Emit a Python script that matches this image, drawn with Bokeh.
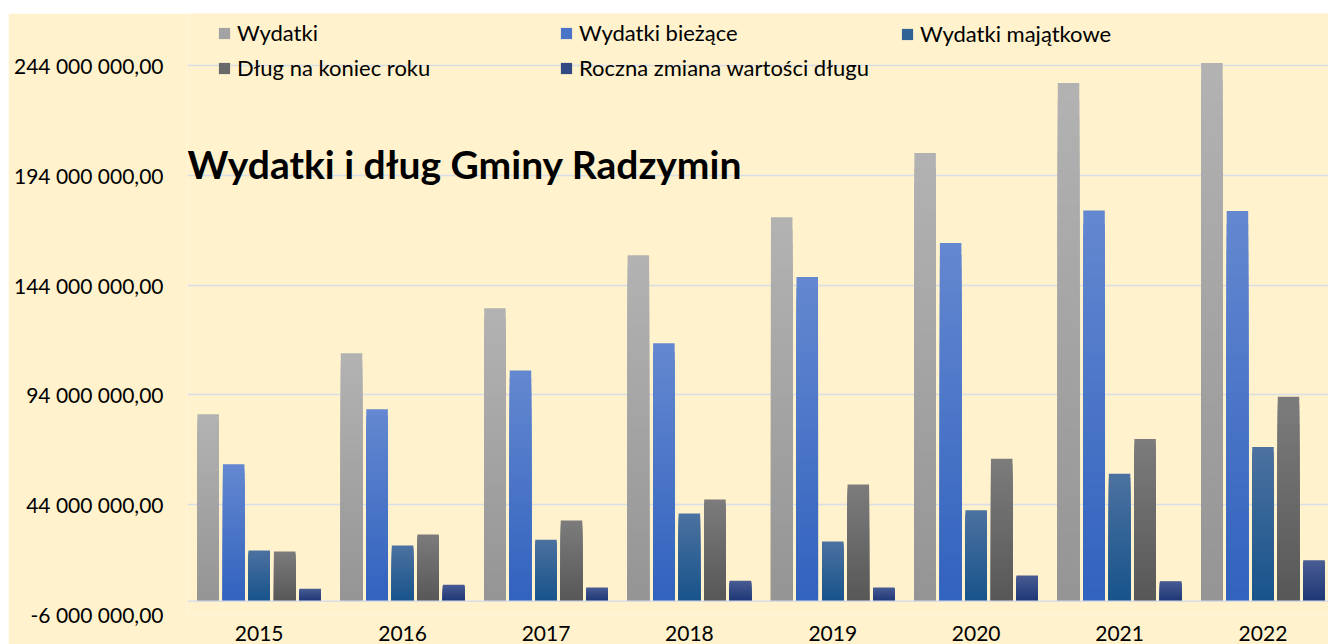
from bokeh.plotting import figure
from bokeh.models import (FixedTicker, Legend, LegendItem, Label, Span,
                          ColumnDataSource, Spacer)
from bokeh.layouts import column, row
from bokeh.embed import file_html
from bokeh.resources import INLINE

# ---------------- data (PLN) ----------------
years = ["2015", "2016", "2017", "2018", "2019", "2020", "2021", "2022"]
wydatki = [85.2e6, 113.0e6, 133.5e6, 157.7e6, 175.0e6, 204.2e6, 236.1e6, 245.3e6]
wydatki_biezace = [62.4e6, 87.5e6, 105.2e6, 117.6e6, 147.7e6, 163.2e6, 178.1e6, 177.8e6]
wydatki_majatkowe = [23.1e6, 25.4e6, 28.1e6, 40.0e6, 27.3e6, 41.5e6, 58.1e6, 70.3e6]
dlug = [22.7e6, 30.4e6, 36.8e6, 46.4e6, 53.2e6, 64.9e6, 74.0e6, 93.2e6]
zmiana_dlugu = [5.7e6, 7.6e6, 6.3e6, 9.4e6, 6.3e6, 11.8e6, 9.2e6, 18.7e6]

series_names = ["Wydatki", "Wydatki bieżące", "Wydatki majątkowe",
                "Dług na koniec roku", "Roczna zmiana wartości długu"]
series_values = [wydatki, wydatki_biezace, wydatki_majatkowe, dlug, zmiana_dlugu]
y_ticks = [-6e6, 44e6, 94e6, 144e6, 194e6, 244e6]

# ---------------- style ----------------
BG = "#FFF2CC"
FONT = "Lato"
# (top colour, bottom colour) of each series' vertical gradient
grad = [((0xB3, 0xB3, 0xB3), (0x94, 0x94, 0x94)),
        ((0x64, 0x88, 0xD0), (0x31, 0x62, 0xBE)),
        ((0x4C, 0x72, 0xA0), (0x17, 0x53, 0x8B)),
        ((0x7C, 0x7C, 0x7C), (0x57, 0x57, 0x57)),
        ((0x4A, 0x5C, 0x93), (0x1D, 0x37, 0x75))]
N_STEPS = 30
BAR_PITCH = 0.178
BAR_W = 0.15


def mix(c_top, c_bot, t):
    r, g, b = (int(round(c_bot[i] + (c_top[i] - c_bot[i]) * t)) for i in range(3))
    return "#%02x%02x%02x" % (r, g, b)


def fmt(v):
    s = f"{abs(v):,.2f}".replace(",", " ").replace(".", ",")
    return ("-" if v < 0 else "") + s


p = figure(width=1320, height=631, output_backend="svg", toolbar_location=None,
           x_range=(-0.5, 7.457), y_range=(-6e6, 267.8e6))
p.background_fill_color = BG
p.border_fill_color = BG
p.outline_line_color = None
p.min_border_left = 179
p.min_border_right = 0
p.min_border_top = 0
p.min_border_bottom = 30

# gradient bars: overlapping vbars from the baseline, each shorter one
# painted on top with a darker colour
renderers = []
for j, (vals, (ctop, cbot)) in enumerate(zip(series_values, grad)):
    xs, tops, cols = [], [], []
    for k in range(N_STEPS):
        f = 1.0 - k / N_STEPS
        t = 1.0 - (k + 0.5) / N_STEPS
        for i, v in enumerate(vals):
            xs.append(i + (j - 2) * BAR_PITCH)
            tops.append(v * f)
            cols.append(mix(ctop, cbot, t))
    src = ColumnDataSource(dict(x=xs, top=tops, color=cols))
    r = p.vbar(x="x", top="top", bottom=0, width=BAR_W, fill_color="color",
               line_color=None, source=src)
    renderers.append(r)
LEGEND_INDEX = (N_STEPS // 2) * len(years)

# axes
p.yaxis.ticker = FixedTicker(ticks=y_ticks)
p.yaxis.major_label_overrides = {v: fmt(v) for v in y_ticks}
p.xaxis.ticker = FixedTicker(ticks=list(range(len(years))))
p.xaxis.major_label_overrides = {i: y for i, y in enumerate(years)}
for ax in (p.xaxis[0], p.yaxis[0]):
    ax.axis_line_color = None
    ax.major_tick_line_color = None
    ax.minor_tick_line_color = None
    ax.major_tick_in = 0
    ax.major_tick_out = 0
    ax.major_label_text_font = FONT
    ax.major_label_text_font_size = "21px"
    ax.major_label_text_color = "#000000"
p.yaxis.major_label_standoff = 24
p.xaxis.major_label_standoff = 11
p.xaxis.major_label_text_line_height = 0.8

p.xgrid.grid_line_color = None
p.ygrid.grid_line_color = "#D8DDE7"
p.ygrid.grid_line_width = 1.5
p.add_layout(Span(location=0, dimension="width", line_color="#D8DDE7",
                  line_width=1.5))

# legend (three columns)
cols_layout = [([0, 3], 30, 533), ([1, 4], 372, 533), ([2], 713, 567)]
for idxs, lx, ly in cols_layout:
    leg = Legend(items=[LegendItem(label=series_names[i], renderers=[renderers[i]],
                                   index=LEGEND_INDEX) for i in idxs],
                 location=(lx, ly), orientation="vertical")
    leg.background_fill_alpha = 0
    leg.border_line_alpha = 0
    leg.padding = 0
    leg.margin = 0
    leg.spacing = 8
    leg.glyph_width = 14
    leg.glyph_height = 14
    leg.label_standoff = 6
    leg.label_text_font = FONT
    leg.label_text_font_size = "22px"
    leg.label_text_color = "#000000"
    p.add_layout(leg, "center")

title = Label(x=0, y=451, x_units="screen", y_units="screen",
              text="Wydatki i dług Gminy Radzymin", text_font=FONT,
              text_font_size="39px", text_font_style="bold",
              text_color="#000000", text_baseline="alphabetic")
p.add_layout(title)

layout = row(Spacer(width=8, height=644),
             column(Spacer(height=13, width=1320), p, spacing=0), spacing=0)
open("out.html", "w").write(file_html(layout, INLINE))
